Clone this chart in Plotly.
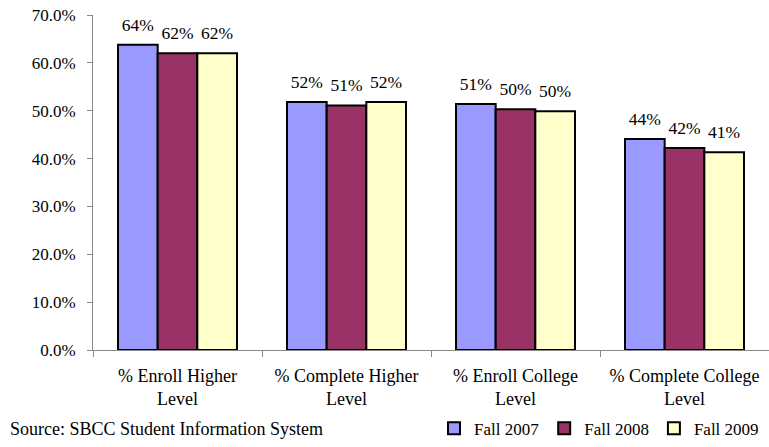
import plotly.graph_objects as go

categories = ["% Enroll Higher<br>Level", "% Complete Higher<br>Level",
              "% Enroll College<br>Level", "% Complete College<br>Level"]
fall_2007 = [63.8, 51.8, 51.4, 44.1]
fall_2008 = [62.0, 51.1, 50.3, 42.2]
fall_2009 = [62.0, 51.8, 49.9, 41.3]

series = [("Fall 2007", fall_2007, "#9999FF"),
          ("Fall 2008", fall_2008, "#993366"),
          ("Fall 2009", fall_2009, "#FFFFCC")]

fig = go.Figure()
for i, (name, vals, color) in enumerate(series):
    fig.add_trace(go.Bar(
        x=categories, y=vals, name=name, offsetgroup=str(i),
        marker=dict(color=color, line=dict(color="black", width=2)),
    ))
    # value labels, sitting a bit higher above the bars than bar text would
    fig.add_trace(go.Scatter(
        x=categories, y=vals, mode="markers+text", offsetgroup=str(i),
        marker=dict(size=14, opacity=0), showlegend=False, hoverinfo="skip",
        text=["%d%%" % round(v) for v in vals], textposition="top center",
        textfont=dict(size=17.5, color="black"), cliponaxis=False,
    ))

fig.update_layout(
    width=769, height=447,
    margin=dict(l=93, r=0, t=15, b=91),
    plot_bgcolor="white", paper_bgcolor="white",
    font=dict(family="Liberation Serif, Times New Roman, serif", size=18, color="black"),
    barmode="group", bargap=0.296, bargroupgap=0,
    scattermode="group", scattergap=0.296,
    showlegend=True,
    legend=dict(orientation="h", x=(434 - 93) / 676, xanchor="left",
                y=-0.235, yanchor="middle", font=dict(size=17),
                itemwidth=30, tracegroupgap=0),
    yaxis=dict(range=[0, 70], dtick=10, ticksuffix="%", tickformat=".1f",
               showgrid=False, showline=True, linecolor="#888888", linewidth=1,
               ticks="outside", ticklen=5, tickcolor="#888888", automargin=False,
               tickfont=dict(size=17), ticklabelstandoff=8),
    xaxis=dict(showline=True, linecolor="#888888", linewidth=1,
               ticks="outside", ticklen=6, tickcolor="#888888",
               tickson="boundaries", automargin=False, ticklabelstandoff=9),
)

fig.add_annotation(text="Source: SBCC Student Information System",
                   xref="paper", yref="paper", x=-85 / 676, y=-0.235,
                   xanchor="left", yanchor="middle", showarrow=False,
                   font=dict(size=18))

fig.write_html("out.html", config={"displayModeBar": False},
               post_script="document.body.style.margin='0';")
